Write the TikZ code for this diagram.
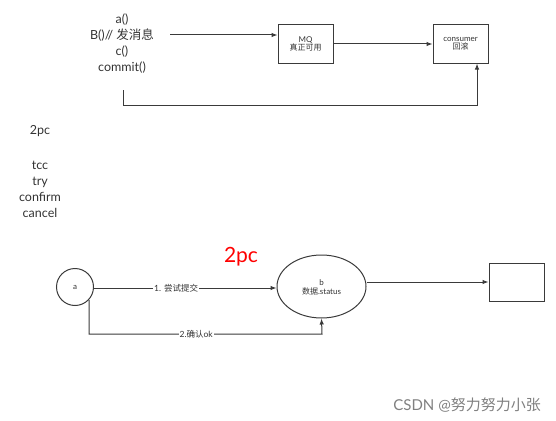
\documentclass[tikz,border=0pt]{standalone}
\usepackage{fontspec}
\setmainfont{Lato}
\newfontfamily\cjk{Noto Sans CJK SC}
\usetikzlibrary{arrows.meta,shapes.geometric}
\definecolor{ln}{HTML}{3A3A3A}
\definecolor{tx}{HTML}{333333}
\tikzset{
  conn/.style={draw=ln, line width=1pt, -{Latex[length=6pt,width=4.5pt]}},
  boxn/.style={draw=ln, line width=1pt, rectangle, inner sep=0pt},
  big/.style={text=tx, font=\fontsize{12.5}{16}\selectfont, align=center, inner sep=0pt},
  small/.style={text=tx, font=\fontsize{8}{8.5}\selectfont, align=center, inner sep=0pt},
  lbl/.style={text=tx, font=\fontsize{8.5}{9}\selectfont, fill=white, inner sep=1pt}
}
\begin{document}
\begin{tikzpicture}[x=1pt,y=-1pt]
\useasboundingbox (0,0) rectangle (556,420);
% top part
\node[big] (code) at (122,44) {a()\\B()// {\cjk 发消息}\\c()\\commit()};
\coordinate (cs) at (170,35);
\coordinate (cb) at (123,90);
\node[boxn, minimum width=55pt, minimum height=38pt] (mq) at (305.5,44) {};
\node[small] at (mq.center) {MQ\\{\cjk 真正可用}};
\node[boxn, minimum width=55pt, minimum height=38pt] (cons) at (460.5,44) {};
\node[small] at (cons.center) {consumer\\{\cjk 回滚}};
\draw[conn] (cs) -- (cs -| mq.west);
\draw[conn] (mq.east) -- (cons.west);
\draw[conn] (cb) -- (123,105) -- (477,105) -- (477,0 |- cons.south);
% left list
\node[big] (pc) at (40,131) {2pc};
\node[big] (tcc) at (40,189) {tcc\\try\\confirm\\cancel};
% bottom part
\node[draw=ln, line width=1pt, circle, minimum size=37pt, inner sep=0pt] (a) at (75,287) {};
\node[small] at (a.center) {a};
\node[text=red, font=\fontsize{21}{24}\selectfont, inner sep=0pt] (red) at (241,257) {2pc};
\node[draw=ln, line width=1pt, ellipse, minimum width=89pt, minimum height=63pt, inner sep=0pt] (b) at (321.5,286.5) {};
\node[small] at (321.5,287.5) {b\\{\cjk 数据}.status};
\node[boxn, minimum width=55pt, minimum height=38pt] (r) at (516.5,282) {};
\draw[conn] (a.east |- 0,288) -- node[lbl, pos=0.45] {1. {\cjk 尝试提交}} (b.west |- 0,288);
\draw[conn] (89,300) -- (89,334) -- node[lbl, pos=0.46] {2.{\cjk 确认}ok} (322,334) -- (b.south);
\draw[conn] (b.east |- 0,282) -- (r.west);
% watermark
\node[text=gray, font=\fontsize{15}{17}\selectfont, anchor=east, inner sep=0pt] (wm) at (541,405) {CSDN @{\cjk 努力努力小张}};
\end{tikzpicture}
\end{document}
